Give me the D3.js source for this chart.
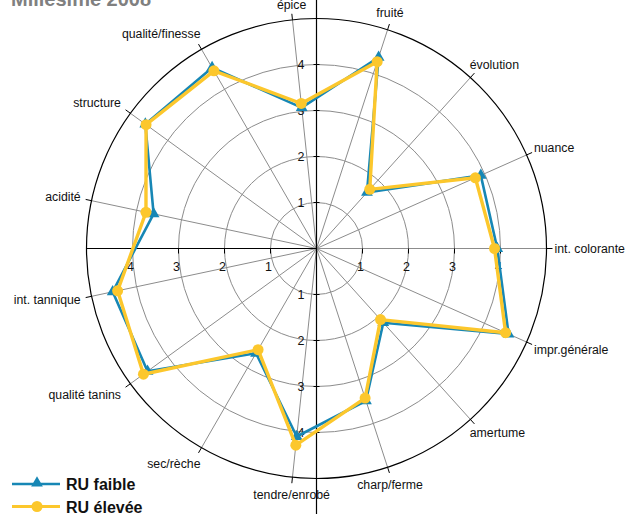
<!DOCTYPE html>
<html><head><meta charset="utf-8">
<script src="https://cdn.jsdelivr.net/npm/d3@7/dist/d3.min.js"></script>
<style>body{margin:0;background:#fff}svg{display:block}text{font-family:"Liberation Sans",Arial,sans-serif}</style>
</head><body>
<svg id="c" width="637" height="514"></svg>
<script>
const categories = ["épice","fruité","évolution","nuance","int. colorante","impr.générale","amertume","charp/ferme","tendre/enrobé","sec/rèche","qualité tanins","int. tannique","acidité","structure","qualité/finesse"];
const ruFaible = [3.08, 4.37, 1.64, 3.91, 3.93, 4.57, 2.17, 3.48, 4.11, 2.63, 4.54, 4.53, 3.62, 4.60, 4.54];
const ruElevee = [3.17, 4.27, 1.73, 3.78, 3.87, 4.50, 2.08, 3.42, 4.30, 2.54, 4.65, 4.42, 3.79, 4.58, 4.46];
const seriesNames = ["RU faible","RU élevée"];
const gridTicks = [1,2,3,4];
const axisTickLabels = ["1","2","3","4"];
const title = "Millésime 2008";

const W=637,H=514,cx=316.5,cy=248.5,R=230;
const blue="#1787b5", yellow="#fcc72c";
const svg=d3.select("#c");
const r=d3.scaleLinear().domain([0,5]).range([0,R]);
const n=categories.length;
const ang=d3.scaleLinear().domain([0,n]).range([-6*Math.PI/180, (354)*Math.PI/180]);
const g=svg.append("g").attr("transform",`translate(${cx},${cy})`);
const px=(i,v)=>r(v)*Math.sin(ang(i));
const py=(i,v)=>-r(v)*Math.cos(ang(i));

g.selectAll("circle.grid").data(gridTicks).join("circle").attr("r",d=>r(d))
 .attr("fill","none").attr("stroke","#8c8c8c").attr("stroke-width",1);
g.selectAll("line.spoke").data(categories).join("line")
 .attr("x1",0).attr("y1",0).attr("x2",(d,i)=>px(i,5)).attr("y2",(d,i)=>py(i,5))
 .attr("stroke","#8c8c8c").attr("stroke-width",1);
g.append("circle").attr("r",R).attr("fill","none").attr("stroke","#000").attr("stroke-width",1.2);
g.selectAll("line.et").data(categories).join("line")
 .attr("x1",(d,i)=>px(i,5)).attr("y1",(d,i)=>py(i,5))
 .attr("x2",(d,i)=>px(i,5)*(R+6)/R).attr("y2",(d,i)=>py(i,5)*(R+6)/R)
 .attr("stroke","#000").attr("stroke-width",1);

g.append("line").attr("x1",0).attr("x2",0).attr("y1",-cy).attr("y2",H-cy).attr("stroke","#000").attr("stroke-width",1.2);
g.append("line").attr("x1",-R).attr("x2",0).attr("y1",0).attr("y2",0).attr("stroke","#000").attr("stroke-width",1.2);
gridTicks.forEach((t,k)=>{
  const d=r(t);
  [-d,d].forEach(y=>{
    g.append("line").attr("x1",-3).attr("x2",3).attr("y1",y).attr("y2",y).attr("stroke","#000");
    g.append("text").attr("x",-12).attr("y",y).attr("dy","0.35em").attr("text-anchor","end")
     .attr("font-size",12.5).attr("fill","#111").text(axisTickLabels[k]);
  });
  [-d,d].forEach(x=>{
    g.append("line").attr("x1",x).attr("x2",x).attr("y1",0).attr("y2",5).attr("stroke","#000");
    g.append("text").attr("x",x-2).attr("y",18).attr("dy","0.35em").attr("text-anchor","middle")
     .attr("font-size",12.5).attr("fill","#111").text(axisTickLabels[k]);
  });
});

categories.forEach((c,i)=>{
  const a=ang(i), s=Math.cos(a), co=Math.sin(a);
  let x=(R+8)*co, y=-(R+8)*s - 10*s;
  let anchor = co>0.35?"start":(co<-0.35?"end":"middle");
  if(co<-0.35) x -= 3;
  if(Math.abs(co)>0.35 && Math.abs(co)<0.8) x -= Math.sign(co)*6;
  if(s>0.98) y += 3;
  g.append("text").attr("x",x).attr("y",y).attr("dy","0.35em").attr("text-anchor",anchor)
   .attr("font-size",12.3).attr("fill","#111").text(c);
});

const line=d3.lineRadial().angle((d,i)=>ang(i)).radius(d=>r(d)).curve(d3.curveLinearClosed);
g.append("path").datum(ruFaible).attr("d",line).attr("fill","none").attr("stroke",blue).attr("stroke-width",2.6).attr("stroke-linejoin","round");
const tri=d3.symbol().type(d3.symbolTriangle).size(60);
g.selectAll("path.tri").data(ruFaible).join("path").attr("d",tri)
 .attr("transform",(d,i)=>`translate(${px(i,d)},${py(i,d)})`).attr("fill",blue);
g.append("path").datum(ruElevee).attr("d",line).attr("fill","none").attr("stroke",yellow).attr("stroke-width",3.4).attr("stroke-linejoin","round");
g.selectAll("circle.dot").data(ruElevee).join("circle").attr("r",5.5)
 .attr("cx",(d,i)=>px(i,d)).attr("cy",(d,i)=>py(i,d)).attr("fill",yellow);

svg.append("text").attr("x",11).attr("y",6).attr("font-size",20).attr("font-weight","bold").attr("fill","#808080").text(title);

const leg=[{c:blue,s:"tri"},{c:yellow,s:"dot"}];
leg.forEach((l,k)=>{
  const y=484+k*22.5;
  svg.append("line").attr("x1",12).attr("x2",60).attr("y1",y).attr("y2",y).attr("stroke",l.c).attr("stroke-width",k?3:2.6);
  if(l.s==="tri") svg.append("path").attr("d",tri).attr("transform",`translate(37,${y-1})`).attr("fill",l.c);
  else svg.append("circle").attr("cx",37).attr("cy",y).attr("r",5.5).attr("fill",l.c);
  svg.append("text").attr("x",66).attr("y",y+6).attr("font-size",16).attr("font-weight","bold").attr("fill","#111").text(seriesNames[k]);
});
</script>
</body></html>
